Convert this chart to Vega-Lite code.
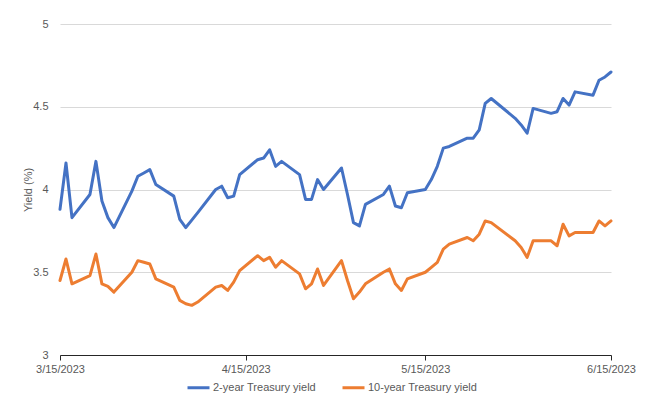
{
  "$schema": "https://vega.github.io/schema/vega-lite/v6.json",
  "width": 551,
  "height": 331,
  "autosize": {"type": "none"},
  "padding": {"left": 60, "top": 24, "right": 43, "bottom": 55},
  "background": "white",
  "config": {"view": {"stroke": null}, "font": "Liberation Sans"},
  "data": {"values": [
    {"date": "2023-03-15", "2-year Treasury yield": 3.88, "10-year Treasury yield": 3.45},
    {"date": "2023-03-16", "2-year Treasury yield": 4.16, "10-year Treasury yield": 3.58},
    {"date": "2023-03-17", "2-year Treasury yield": 3.83, "10-year Treasury yield": 3.43},
    {"date": "2023-03-20", "2-year Treasury yield": 3.97, "10-year Treasury yield": 3.48},
    {"date": "2023-03-21", "2-year Treasury yield": 4.17, "10-year Treasury yield": 3.61},
    {"date": "2023-03-22", "2-year Treasury yield": 3.93, "10-year Treasury yield": 3.43},
    {"date": "2023-03-23", "2-year Treasury yield": 3.83, "10-year Treasury yield": 3.415},
    {"date": "2023-03-24", "2-year Treasury yield": 3.77, "10-year Treasury yield": 3.38},
    {"date": "2023-03-27", "2-year Treasury yield": 3.99, "10-year Treasury yield": 3.50},
    {"date": "2023-03-28", "2-year Treasury yield": 4.08, "10-year Treasury yield": 3.57},
    {"date": "2023-03-29", "2-year Treasury yield": 4.10, "10-year Treasury yield": 3.56},
    {"date": "2023-03-30", "2-year Treasury yield": 4.12, "10-year Treasury yield": 3.55},
    {"date": "2023-03-31", "2-year Treasury yield": 4.03, "10-year Treasury yield": 3.46},
    {"date": "2023-04-03", "2-year Treasury yield": 3.96, "10-year Treasury yield": 3.41},
    {"date": "2023-04-04", "2-year Treasury yield": 3.82, "10-year Treasury yield": 3.33},
    {"date": "2023-04-05", "2-year Treasury yield": 3.77, "10-year Treasury yield": 3.31},
    {"date": "2023-04-06", "2-year Treasury yield": 3.815, "10-year Treasury yield": 3.30},
    {"date": "2023-04-07", "2-year Treasury yield": 3.86, "10-year Treasury yield": 3.32},
    {"date": "2023-04-10", "2-year Treasury yield": 4.00, "10-year Treasury yield": 3.41},
    {"date": "2023-04-11", "2-year Treasury yield": 4.02, "10-year Treasury yield": 3.42},
    {"date": "2023-04-12", "2-year Treasury yield": 3.95, "10-year Treasury yield": 3.39},
    {"date": "2023-04-13", "2-year Treasury yield": 3.96, "10-year Treasury yield": 3.44},
    {"date": "2023-04-14", "2-year Treasury yield": 4.09, "10-year Treasury yield": 3.51},
    {"date": "2023-04-17", "2-year Treasury yield": 4.18, "10-year Treasury yield": 3.60},
    {"date": "2023-04-18", "2-year Treasury yield": 4.19, "10-year Treasury yield": 3.57},
    {"date": "2023-04-19", "2-year Treasury yield": 4.24, "10-year Treasury yield": 3.59},
    {"date": "2023-04-20", "2-year Treasury yield": 4.14, "10-year Treasury yield": 3.53},
    {"date": "2023-04-21", "2-year Treasury yield": 4.17, "10-year Treasury yield": 3.57},
    {"date": "2023-04-24", "2-year Treasury yield": 4.09, "10-year Treasury yield": 3.49},
    {"date": "2023-04-25", "2-year Treasury yield": 3.94, "10-year Treasury yield": 3.40},
    {"date": "2023-04-26", "2-year Treasury yield": 3.94, "10-year Treasury yield": 3.43},
    {"date": "2023-04-27", "2-year Treasury yield": 4.06, "10-year Treasury yield": 3.52},
    {"date": "2023-04-28", "2-year Treasury yield": 4.00, "10-year Treasury yield": 3.42},
    {"date": "2023-05-01", "2-year Treasury yield": 4.13, "10-year Treasury yield": 3.57},
    {"date": "2023-05-02", "2-year Treasury yield": 3.97, "10-year Treasury yield": 3.45},
    {"date": "2023-05-03", "2-year Treasury yield": 3.80, "10-year Treasury yield": 3.34},
    {"date": "2023-05-04", "2-year Treasury yield": 3.78, "10-year Treasury yield": 3.38},
    {"date": "2023-05-05", "2-year Treasury yield": 3.91, "10-year Treasury yield": 3.43},
    {"date": "2023-05-08", "2-year Treasury yield": 3.97, "10-year Treasury yield": 3.50},
    {"date": "2023-05-09", "2-year Treasury yield": 4.02, "10-year Treasury yield": 3.52},
    {"date": "2023-05-10", "2-year Treasury yield": 3.90, "10-year Treasury yield": 3.43},
    {"date": "2023-05-11", "2-year Treasury yield": 3.89, "10-year Treasury yield": 3.39},
    {"date": "2023-05-12", "2-year Treasury yield": 3.98, "10-year Treasury yield": 3.46},
    {"date": "2023-05-15", "2-year Treasury yield": 4.00, "10-year Treasury yield": 3.50},
    {"date": "2023-05-16", "2-year Treasury yield": 4.06, "10-year Treasury yield": 3.53},
    {"date": "2023-05-17", "2-year Treasury yield": 4.14, "10-year Treasury yield": 3.56},
    {"date": "2023-05-18", "2-year Treasury yield": 4.25, "10-year Treasury yield": 3.64},
    {"date": "2023-05-19", "2-year Treasury yield": 4.26, "10-year Treasury yield": 3.67},
    {"date": "2023-05-22", "2-year Treasury yield": 4.31, "10-year Treasury yield": 3.71},
    {"date": "2023-05-23", "2-year Treasury yield": 4.31, "10-year Treasury yield": 3.69},
    {"date": "2023-05-24", "2-year Treasury yield": 4.36, "10-year Treasury yield": 3.73},
    {"date": "2023-05-25", "2-year Treasury yield": 4.52, "10-year Treasury yield": 3.81},
    {"date": "2023-05-26", "2-year Treasury yield": 4.55, "10-year Treasury yield": 3.80},
    {"date": "2023-05-30", "2-year Treasury yield": 4.43, "10-year Treasury yield": 3.69},
    {"date": "2023-05-31", "2-year Treasury yield": 4.39, "10-year Treasury yield": 3.65},
    {"date": "2023-06-01", "2-year Treasury yield": 4.34, "10-year Treasury yield": 3.59},
    {"date": "2023-06-02", "2-year Treasury yield": 4.49, "10-year Treasury yield": 3.69},
    {"date": "2023-06-05", "2-year Treasury yield": 4.46, "10-year Treasury yield": 3.69},
    {"date": "2023-06-06", "2-year Treasury yield": 4.47, "10-year Treasury yield": 3.66},
    {"date": "2023-06-07", "2-year Treasury yield": 4.55, "10-year Treasury yield": 3.79},
    {"date": "2023-06-08", "2-year Treasury yield": 4.51, "10-year Treasury yield": 3.72},
    {"date": "2023-06-09", "2-year Treasury yield": 4.59, "10-year Treasury yield": 3.74},
    {"date": "2023-06-12", "2-year Treasury yield": 4.57, "10-year Treasury yield": 3.74},
    {"date": "2023-06-13", "2-year Treasury yield": 4.66, "10-year Treasury yield": 3.81},
    {"date": "2023-06-14", "2-year Treasury yield": 4.68, "10-year Treasury yield": 3.78},
    {"date": "2023-06-15", "2-year Treasury yield": 4.71, "10-year Treasury yield": 3.81}
  ]},
  "transform": [{"fold": ["2-year Treasury yield", "10-year Treasury yield"], "as": ["series", "yield"]}],
  "mark": {"type": "line", "strokeWidth": 3, "strokeJoin": "round", "strokeCap": "round"},
  "encoding": {
    "x": {
      "field": "date", "type": "temporal",
      "scale": {"type": "utc", "domain": [{"year": 2023, "month": 3, "date": 15, "utc": true}, {"year": 2023, "month": 6, "date": 15, "utc": true}]},
      "axis": {
        "values": [{"year": 2023, "month": 3, "date": 15, "utc": true}, {"year": 2023, "month": 4, "date": 15, "utc": true}, {"year": 2023, "month": 5, "date": 15, "utc": true}, {"year": 2023, "month": 6, "date": 15, "utc": true}],
        "labelExpr": "utcFormat(datum.value, '%-m/%-d/%Y')", "title": null, "grid": false,
        "domainColor": "#262626", "tickColor": "#262626", "tickSize": 5,
        "labelColor": "#595959", "labelFontSize": 11, "labelPadding": 3, "labelFlush": false
      }
    },
    "y": {
      "field": "yield", "type": "quantitative",
      "scale": {"domain": [3, 5], "nice": false, "zero": false},
      "axis": {
        "values": [3, 3.5, 4, 4.5, 5], "format": "~g", "title": "Yield (%)",
        "titleColor": "#595959", "titleFontSize": 11, "titleFontWeight": "normal", "titlePadding": -1,
        "labelColor": "#595959", "labelFontSize": 11, "labelPadding": 12,
        "ticks": false, "domain": false, "gridColor": "#d9d9d9", "gridWidth": 1
      }
    },
    "color": {
      "field": "series", "type": "nominal",
      "scale": {"domain": ["2-year Treasury yield", "10-year Treasury yield"], "range": ["#4472C4", "#ED7D31"]},
      "legend": {
        "orient": "none", "legendX": 126, "legendY": 351, "direction": "horizontal", "title": null,
        "symbolType": "stroke", "symbolStrokeWidth": 3, "symbolSize": 484,
        "labelFontSize": 11, "labelColor": "#595959", "columnPadding": 20, "labelOffset": 2
      }
    }
  }
}
